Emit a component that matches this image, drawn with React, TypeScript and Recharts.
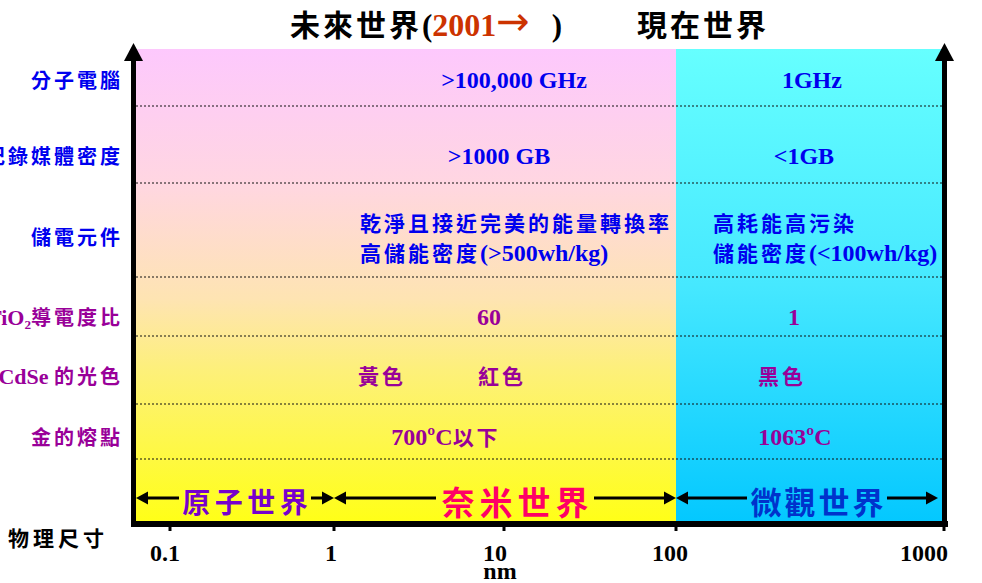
import React from 'react';
import { ComposedChart, XAxis, YAxis, Scatter, ReferenceArea, ReferenceLine } from 'recharts';

// 物理尺寸 (nm)
const sizeTicks = [0.1, 1, 10, 100, 1000];
const sizeTickLabels = ['0.1', '1', '10', '100', '1000'];
const sizeUnit = 'nm';
const sizeTitle = '物理尺寸';

const titleFuture = '未來世界';
const titleYear = '2001→';
const titleNow = '現在世界';

const rowLabels = ['分子電腦', '記錄媒體密度', '儲電元件', 'TiO₂導電度比', 'CdSe 的光色', '金的熔點'];
const rowGroup = [0, 0, 0, 1, 1, 1];
const groupLabels = ['應用系', '物理現象'];

const nanoValues = [
  '>100,000 GHz',
  '>1000 GB',
  '乾淨且接近完美的能量轉換率\n高儲能密度(>500wh/kg)',
  '60',
  '黃色　　　紅色',
  '700ºC以下',
];
const microValues = ['1GHz', '<1GB', '高耗能高污染\n儲能密度(<100wh/kg)', '1', '黑色', '1063ºC'];

const eras = [
  { name: '未來世界', from: null as number | null, to: 100 },
  { name: '現在世界', from: 100 as number | null, to: 1000 },
];
const worlds = [
  { name: '原子世界', from: null as number | null, to: 1 },
  { name: '奈米世界', from: 1 as number | null, to: 100 },
  { name: '微觀世界', from: 100 as number | null, to: 1000 },
];
const nanoAt = 10;
const microAt = 316;

// layout
const W = 982;
const H = 583;
const PLOT_W = 809;
const PLOT_H = 472;
const tickAt = [34, 198, 368, 540, 808]; // schematic size axis, not a true log scale
const tickLabelDx = [-5, -3, -9, -6, -20];
const rowY = [31, 107, 188, 268, 327, 388];
const rowLines = [57, 134, 228, 287, 355, 410];
const worldY = 449;
const groupY = [136, 360];
const nanoDx = [10, -5, -144, -15, -62, -58];
const microDx = [2, -6, -97, -16, -28, -15];

const BLUE = '#0000ee';
const PURPLE = '#990099';
const groupColor = [BLUE, PURPLE];
const worldStyle = [
  { color: '#7700cc', size: 28, ls: 4.5, half: 66 },
  { color: '#ff0066', size: 33, ls: 5, half: 79 },
  { color: '#0033cc', size: 31, ls: 3, half: 70 },
];

const CJK = "'Noto Sans CJK TC','Noto Sans CJK SC',sans-serif";
const SERIF = "'Liberation Serif','Times New Roman',serif";

function xPos(nm: number | null) {
  if (nm == null) return 0;
  const l = Math.log10(nm);
  for (let i = 0; i < sizeTicks.length - 1; i++) {
    const a = Math.log10(sizeTicks[i]);
    const b = Math.log10(sizeTicks[i + 1]);
    if (l <= b) return tickAt[i] + ((l - a) / (b - a)) * (tickAt[i + 1] - tickAt[i]);
  }
  return tickAt[tickAt.length - 1];
}

const cjkRe = /[\u3000-\u9fff\uff00-\uffef]/;
function runs(text: string, cjkSize: number, latinSize: number, ls: number) {
  const parts = text.match(/[\u3000-\u9fff\uff00-\uffef]+|[^\u3000-\u9fff\uff00-\uffef]+/g) || [];
  return parts.map((p, i) =>
    cjkRe.test(p) ? (
      <tspan key={i} fontFamily={CJK} fontSize={cjkSize} letterSpacing={ls}>{p}</tspan>
    ) : (
      <tspan key={i} fontFamily={SERIF} fontSize={latinSize}>{p}</tspan>
    )
  );
}

const cells = rowLabels.flatMap((_, i) => [
  { x: xPos(nanoAt), y: rowY[i], text: nanoValues[i], dx: nanoDx[i], g: rowGroup[i] },
  { x: xPos(microAt), y: rowY[i], text: microValues[i], dx: microDx[i], g: rowGroup[i] },
]);

const CellText = (p: any) => {
  const { cx, cy, payload } = p;
  const lines: string[] = payload.text.split('\n');
  const fill = groupColor[payload.g];
  if (lines.length > 1) {
    return (
      <g>
        {lines.map((l, k) => (
          <text key={k} x={cx + payload.dx} y={cy - 14 + k * 30 + 8} textAnchor="start" fill={fill} fontWeight={700}>
            {runs(l, 21, 24, 3)}
          </text>
        ))}
      </g>
    );
  }
  return (
    <text x={cx + payload.dx} y={cy + 8} textAnchor="middle" fill={fill} fontWeight={700}>
      {runs(lines[0], 21, 24, 3)}
    </text>
  );
};

const RowTick = (p: any) => {
  const i = rowY.indexOf(p.payload.value);
  if (i < 0) return null;
  return (
    <text x={p.x - 13} y={p.y + 8} textAnchor="end" fill={groupColor[rowGroup[i]]} fontWeight={700}>
      {runs(rowLabels[i], 20, 22, 3)}
    </text>
  );
};

const GroupTick = (p: any) => {
  const i = groupY.indexOf(p.payload.value);
  if (i < 0) return null;
  const chars = Array.from(groupLabels[i]);
  const step = 43;
  const start = p.y - ((chars.length - 1) * step) / 2;
  return (
    <g>
      {chars.map((c, k) => (
        <text key={k} x={p.x + 20} y={start + k * step + 9} textAnchor="middle" fontFamily={CJK}
          fontSize={25} fontWeight={700} fill={groupColor[i]}>{c}</text>
      ))}
    </g>
  );
};

const SizeTick = (p: any) => {
  const i = tickAt.indexOf(p.payload.value);
  if (i < 0) return null;
  return (
    <g>
      <line x1={p.x} x2={p.x} y1={p.y + 5} y2={p.y + 10} stroke="#000" strokeWidth={3} />
      <text x={p.x + tickLabelDx[i]} y={p.y + 40} textAnchor="middle" fontFamily={SERIF} fontSize={24} fontWeight={700} fill="#000">
        {sizeTickLabels[i]}
      </text>
      {sizeTicks[i] === 10 && (
        <text x={p.x - 4} y={p.y + 58} textAnchor="middle" fontFamily={SERIF} fontSize={24} fontWeight={700} fill="#000">
          {sizeUnit}
        </text>
      )}
    </g>
  );
};

const SizeTitle = (p: any) => {
  const vb = p.viewBox || { x: 136, y: 521 };
  return (
    <text x={vb.x - 128} y={vb.y + 25} fontFamily={CJK} fontSize={21} fontWeight={700} letterSpacing={4} fill="#000">
      {sizeTitle}
    </text>
  );
};

const vAxisShape = (dx: number) => (p: any) => {
  const x = p.x1 + dx;
  const top = Math.min(p.y1, p.y2);
  const bottom = Math.max(p.y1, p.y2);
  return (
    <g>
      <line x1={x} x2={x} y1={top + 8} y2={bottom + 6} stroke="#000" strokeWidth={5} />
      <polygon points={`${x},${top - 6} ${x - 9.5},${top + 12} ${x + 9.5},${top + 12}`} fill="#000" />
    </g>
  );
};

const hAxisShape = (p: any) => {
  const y = p.y1 + 3;
  const l = Math.min(p.x1, p.x2);
  const r = Math.max(p.x1, p.x2);
  return <line x1={l - 5} x2={r + 3} y1={y} y2={y} stroke="#000" strokeWidth={6} />;
};

const worldShape = (i: number) => (p: any) => {
  const w = worlds[i];
  const st = worldStyle[i];
  const x1 = Math.min(p.x1, p.x2);
  const x2 = Math.max(p.x1, p.x2) - (w.to === sizeTicks[sizeTicks.length - 1] ? 6 : 0);
  const y = p.y1;
  const cx = (x1 + x2) / 2 + 10;
  return (
    <g>
      <line x1={x1 + 8} x2={cx - st.half} y1={y} y2={y} stroke="#000" strokeWidth={3} />
      <polygon points={`${x1},${y} ${x1 + 12},${y - 6.5} ${x1 + 12},${y + 6.5}`} fill="#000" />
      <line x1={cx + st.half} x2={x2 - 8} y1={y} y2={y} stroke="#000" strokeWidth={3} />
      <polygon points={`${x2},${y} ${x2 - 12},${y - 6.5} ${x2 - 12},${y + 6.5}`} fill="#000" />
      <text x={cx + st.ls / 2} y={y + 4 + st.size * 0.38} textAnchor="middle" fontFamily={CJK}
        fontSize={st.size} fontWeight={700} letterSpacing={st.ls} fill={st.color}>{w.name}</text>
    </g>
  );
};

const yearDigits = titleYear.replace(/[^0-9]/g, '');
const yearArrow = titleYear.replace(/[0-9]/g, '');

export default function App() {
  return (
    <div style={{ position: 'relative', width: W, height: H, overflow: 'hidden', background: '#fff' }}>
      <style>{'body{margin:0}'}</style>
      <ComposedChart width={W} height={H} data={cells} margin={{ top: 49, right: 0, bottom: 0, left: 0 }}>
        <defs>
          <linearGradient id="gFuture" x1="0" y1="0" x2="0" y2="1">
            <stop offset="0" stopColor="#fdc8fd" />
            <stop offset="0.28" stopColor="#ffd6e2" />
            <stop offset="0.53" stopColor="#fee4b2" />
            <stop offset="0.68" stopColor="#fdf07a" />
            <stop offset="1" stopColor="#ffff18" />
          </linearGradient>
          <linearGradient id="gNow" x1="0" y1="0" x2="0" y2="1">
            <stop offset="0" stopColor="#66ffff" />
            <stop offset="0.5" stopColor="#46e8ff" />
            <stop offset="1" stopColor="#04c8ff" />
          </linearGradient>
        </defs>
        <XAxis dataKey="x" type="number" domain={[0, PLOT_W]} ticks={tickAt} interval={0} height={62}
          axisLine={false} tickLine={false} tickSize={0} tickMargin={0} tick={<SizeTick />}
          label={{ content: <SizeTitle /> }} allowDataOverflow />
        <YAxis dataKey="y" type="number" domain={[0, PLOT_H]} reversed ticks={rowY} interval={0} width={136}
          axisLine={false} tickLine={false} tickSize={0} tickMargin={0} tick={<RowTick />} allowDataOverflow />
        <YAxis yAxisId="r" orientation="right" type="number" domain={[0, PLOT_H]} reversed ticks={groupY} interval={0}
          width={37} axisLine={false} tickLine={false} tickSize={0} tickMargin={0} tick={<GroupTick />} />
        {eras.map((e, i) => (
          <ReferenceArea key={e.name} x1={xPos(e.from)} x2={xPos(e.to)} y1={0} y2={PLOT_H}
            fill={i === 0 ? 'url(#gFuture)' : 'url(#gNow)'} fillOpacity={1} stroke="none" ifOverflow="visible" />
        ))}
        {rowLines.map((v) => (
          <ReferenceLine key={v} y={v} stroke="#111" strokeWidth={1} strokeDasharray="2 2" />
        ))}
        <Scatter dataKey="y" shape={CellText} isAnimationActive={false} />
        {worlds.map((w, i) => (
          <ReferenceLine key={w.name} segment={[{ x: xPos(w.from), y: worldY }, { x: xPos(w.to), y: worldY }]}
            shape={worldShape(i)} ifOverflow="visible" />
        ))}
        <ReferenceLine x={0} shape={vAxisShape(-2.5)} ifOverflow="visible" />
        <ReferenceLine x={PLOT_W} shape={vAxisShape(-0.5)} ifOverflow="visible" />
        <ReferenceLine y={PLOT_H} shape={hAxisShape} ifOverflow="visible" />
      </ComposedChart>
      <svg width={W} height={60} style={{ position: 'absolute', left: 0, top: 0, pointerEvents: 'none' }}>
        <text x={290} y={36} fontWeight={700} fill="#000" style={{ whiteSpace: 'pre' }}>
          <tspan fontFamily={CJK} fontSize={30} letterSpacing={3}>{titleFuture}</tspan>
          <tspan fontFamily={SERIF} fontSize={31}>(</tspan>
          <tspan fontFamily={SERIF} fontSize={32} fill="#cc3300">{yearDigits}</tspan>
          <tspan fontFamily="'DejaVu Sans',sans-serif" fontSize={40} fontWeight={400} fill="#cc3300" dy={-1}>{yearArrow}</tspan>
          <tspan fontFamily={SERIF} fontSize={31} dy={1} dx={22}>)</tspan>
        </text>
        <text x={637} y={36} fontFamily={CJK} fontSize={30} fontWeight={700} letterSpacing={3} fill="#000">{titleNow}</text>
      </svg>
    </div>
  );
}
